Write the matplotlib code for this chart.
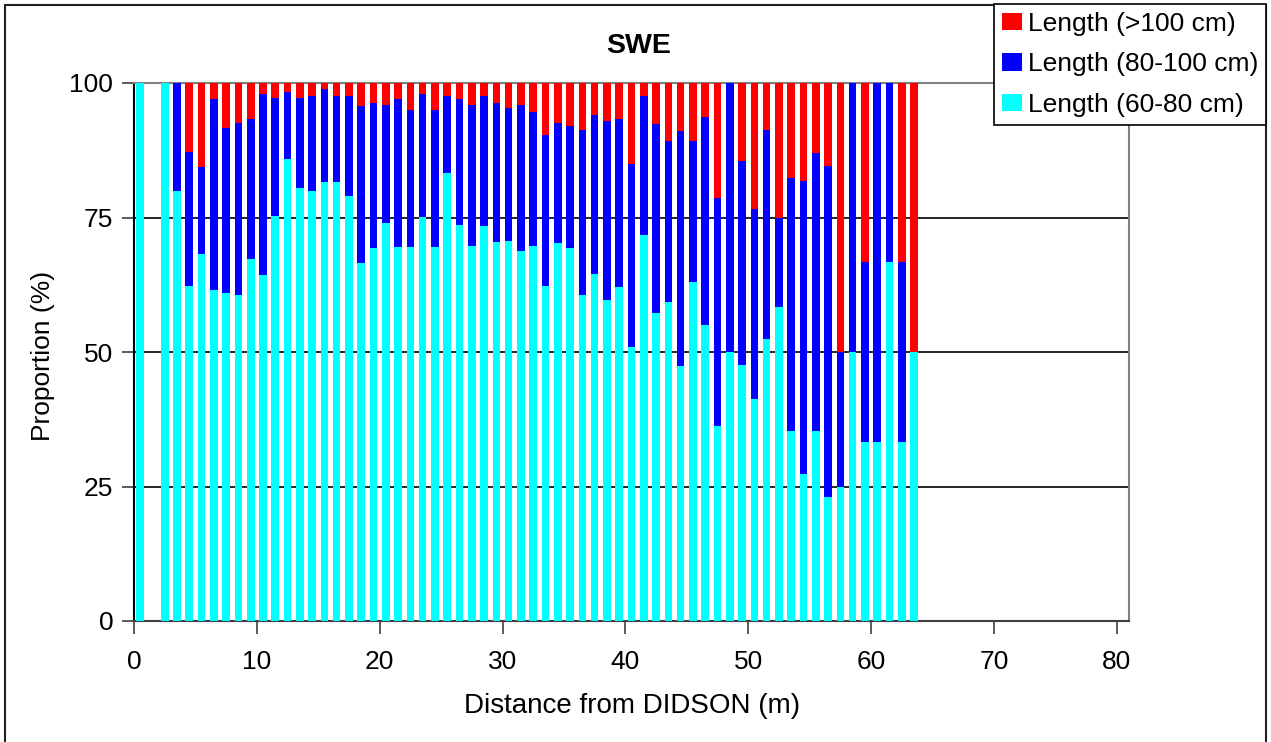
import numpy as np
import matplotlib
matplotlib.use('Agg')
import matplotlib.pyplot as plt
from matplotlib.patches import Rectangle, Patch

plt.rcParams['font.family'] = ['Liberation Sans', 'DejaVu Sans']

# distance bins (m), bar sits in the middle of each 1 m bin
distance = [0] + list(range(2, 64))

pct_60_80 = [100.0, 100.0, 80.0, 62.3, 68.3, 61.5, 61.0, 60.6, 67.3, 64.3,
             75.3, 85.9, 80.4, 79.9, 81.6, 81.6, 79.0, 66.6, 69.3, 74.0,
             69.5, 69.5, 75.1, 69.5, 83.3, 73.6, 69.7, 73.4, 70.4, 70.6,
             68.8, 69.7, 62.3, 70.3, 69.3, 60.6, 64.5, 59.7, 62.1, 50.9,
             71.7, 57.2, 59.3, 47.4, 63.0, 55.0, 36.2, 50.0, 47.6, 41.3,
             52.4, 58.4, 35.3, 27.3, 35.3, 23.0, 25.0, 50.0, 33.3, 33.3,
             66.7, 33.3, 50.0]
pct_80_100 = [0.0, 0.0, 20.0, 24.9, 16.0, 35.5, 30.7, 32.0, 26.0, 33.7,
              22.0, 12.5, 16.9, 17.7, 17.3, 16.0, 18.6, 29.2, 27.0, 21.9,
              27.5, 25.5, 22.9, 25.5, 14.3, 23.4, 26.2, 24.2, 25.9, 24.8,
              27.1, 25.0, 28.0, 22.3, 22.8, 30.7, 29.6, 33.2, 31.2, 34.1,
              25.9, 35.2, 29.9, 43.6, 26.2, 38.7, 42.5, 50.0, 37.9, 35.2,
              38.9, 16.6, 47.1, 54.4, 51.7, 61.6, 25.0, 50.0, 33.4, 66.7,
              33.3, 33.4, 0.0]
pct_100_up = [0.0, 0.0, 0.0, 12.8, 15.7, 3.0, 8.3, 7.4, 6.7, 2.0,
              2.7, 1.6, 2.7, 2.4, 1.1, 2.4, 2.4, 4.2, 3.7, 4.1,
              3.0, 5.0, 2.0, 5.0, 2.4, 3.0, 4.1, 2.4, 3.7, 4.6,
              4.1, 5.3, 9.7, 7.4, 7.9, 8.7, 5.9, 7.1, 6.7, 15.0,
              2.4, 7.6, 10.8, 9.0, 10.8, 6.3, 21.3, 0.0, 14.5, 23.5,
              8.7, 25.0, 17.6, 18.3, 13.0, 15.4, 50.0, 0.0, 33.3, 0.0,
              0.0, 33.3, 50.0]

series = ['Length (60-80 cm)', 'Length (80-100 cm)', 'Length (>100 cm)']
colors = ['#00FFFF', '#0000FF', '#FF0000']

W, H = 1271, 742
fig = plt.figure(figsize=(W / 100, H / 100), dpi=100)
ax = fig.add_axes([134 / W, 1 - 621 / H, (1129 - 134) / W, (621 - 83) / H])

x = np.array(distance) + 0.5
bottom = np.zeros(len(x))
for vals, col in zip([pct_60_80, pct_80_100, pct_100_up], colors):
    ax.bar(x, vals, width=0.62, bottom=bottom, color=col, linewidth=0, zorder=3)
    bottom += np.array(vals)

ax.set_xlim(0, 81)
ax.set_ylim(0, 100)
ax.set_xticks(range(0, 81, 10))
ax.set_yticks([0, 25, 50, 75, 100])
ax.tick_params(axis='both', labelsize=19, length=9, width=1.2, color='#404040')
ax.tick_params(axis='y', pad=6)
ax.tick_params(axis='x', pad=12)
for y in [25, 50, 75]:
    ax.axhline(y, color='black', linewidth=1.2, zorder=1)

ax.spines['left'].set_color('black')
ax.spines['bottom'].set_color('#404040')
ax.spines['top'].set_color('#808080')
ax.spines['right'].set_color('#808080')
for s in ax.spines.values():
    s.set_linewidth(1.5)

fig.text(632 / W, 1 - 706 / H, 'Distance from DIDSON (m)', fontsize=20,
         ha='center', va='center')
fig.text(43 / W, 1 - 356 / H, 'Proportion (%)', fontsize=19, rotation=90,
         ha='center', va='center')
fig.text(639 / W, 1 - 46 / H, 'SWE', fontsize=20.5, fontweight='bold',
         ha='center', va='center')

# outer chart border
fig.patches.append(Rectangle((5 / W, -0.01), (1266 - 5) / W, 1.01 - 5 / H,
                             transform=fig.transFigure, fill=False,
                             edgecolor='#202020', linewidth=1.5))

handles = [Patch(facecolor=c, edgecolor='none') for c in colors[::-1]]
leg = fig.legend(handles, series[::-1], loc='upper right',
                 bbox_to_anchor=(1266 / W, 1 - 4 / H), fontsize=19,
                 frameon=True, fancybox=False, framealpha=1,
                 edgecolor='black', borderpad=0.3, labelspacing=0.62,
                 handlelength=0.76, handleheight=0.65, handletextpad=0.2,
                 borderaxespad=0)
leg.get_frame().set_linewidth(1.2)

fig.savefig('out.png', dpi=100)
